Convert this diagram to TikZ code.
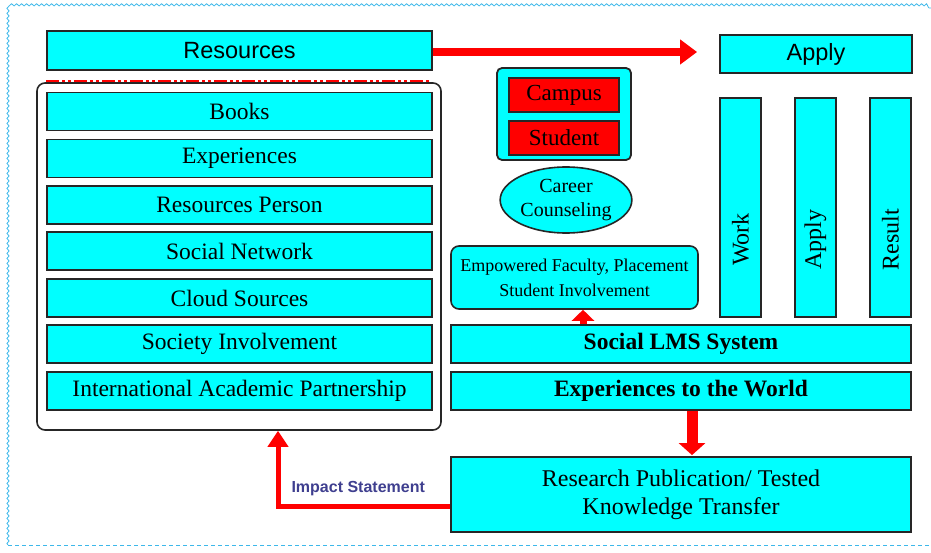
\documentclass[tikz,border=0pt]{standalone}
\usepackage{fontspec}
\setmainfont{Liberation Serif}
\setsansfont{Liberation Sans}
\usetikzlibrary{arrows.meta,shapes.geometric,shapes.misc,decorations.pathmorphing}
\definecolor{cy}{HTML}{00FFFF}
\definecolor{bord}{HTML}{3DB8EA}
\definecolor{impact}{HTML}{3F3F8F}
\definecolor{redc}{HTML}{FF0000}
\tikzset{
  cbox/.style={draw=black!85, line width=1.8pt, fill=cy, inner sep=1pt, align=center,
    font=\fontsize{23.5}{26}\selectfont},
  sbox/.style={cbox, font=\sffamily\fontsize{23.5}{26}\selectfont},
  bbox/.style={cbox, font=\bfseries\fontsize{23.5}{26}\selectfont},
  rbox/.style={cbox, fill=redc, font=\fontsize{23}{25}\selectfont},
  vtext/.style={rotate=90, font=\fontsize{24}{26}\selectfont, inner sep=0pt},
  redarrow/.style={draw=redc, line width=8pt},
}
\begin{document}
\begin{tikzpicture}[x=1pt,y=-1pt]
\useasboundingbox (0,0) rectangle (931,553);
% page border
\draw[bord, line width=0.8pt, decorate, decoration={snake, amplitude=1.1pt, segment length=5pt}]
  (8,545) -- (8,8) -- (931,8);
\draw[bord, line width=1pt, dash pattern=on 4pt off 3pt] (8,545) -- (931,545);

% left column
\node[sbox, minimum width=385pt, minimum height=39pt] (res) at (239.5,50.5) {Resources};
\draw[redc, line width=2.5pt, dash pattern=on 13pt off 3pt on 3pt off 3pt on 3pt off 3pt]
  ([yshift=-10pt]res.south west) -- ([yshift=-10pt,xshift=-2pt]res.south east);
\node[draw=black!85, line width=1.6pt, rounded corners=8pt, minimum width=404pt, minimum height=347pt] (group) at (239,256.5) {};
\node[cbox, minimum width=385pt, minimum height=38pt] (books) at (239.5,111.5) {Books};
\node[cbox, minimum width=385pt, minimum height=38pt] (exp) at (239.5,158.5) {Experiences};
\node[cbox, minimum width=385pt, minimum height=38pt] (rp) at (239.5,205) {Resources Person};
\node[cbox, minimum width=385pt, minimum height=38pt] (sn) at (239.5,251) {Social Network};
\node[cbox, minimum width=385pt, minimum height=38pt] (cs) at (239.5,298) {Cloud Sources};
\node[cbox, minimum width=385pt, minimum height=38pt] (si) at (239.5,344) {Society Involvement};
\node[cbox, minimum width=385pt, minimum height=38pt] (iap) at (239.5,391) {International Academic Partnership};

% right top
\node[sbox, minimum width=192pt, minimum height=38pt] (apply) at (816,54) {Apply};
\node[cbox, minimum width=41pt, minimum height=219pt] (work) at (740.5,207.5) {};
\node[cbox, minimum width=41pt, minimum height=219pt] (apply2) at (815.5,207.5) {};
\node[cbox, minimum width=41pt, minimum height=219pt] (result) at (890.5,207.5) {};
\node[vtext] (workt) at ([yshift=-32pt]work.center) {Work};
\node[vtext] (applyt) at ([yshift=-32pt]apply2.center) {Apply};
\node[vtext] (resultt) at ([yshift=-32pt]result.center) {Result};

% middle
\node[cbox, rounded corners=5pt, minimum width=134pt, minimum height=92pt] (cbox1) at (564,114) {};
\node[rbox, minimum width=110pt, minimum height=34pt] (campus) at (564,95) {Campus};
\node[rbox, minimum width=110pt, minimum height=34pt] (student) at (564,138) {Student};
\node[ellipse, cbox, line width=1.6pt, minimum width=125pt, minimum height=66pt,
  font=\fontsize{20}{24}\selectfont] (career) at (566,200) {Career\\Counseling};
\node[cbox, rounded corners=8pt, line width=1.6pt, minimum width=247pt, minimum height=63pt,
  font=\fontsize{18}{25}\selectfont] (emp) at (574.5,277.5) {Empowered Faculty, Placement\\Student Involvement};
\node[bbox, minimum width=460pt, minimum height=38pt] (lms) at (681,344) {Social LMS System};
\node[bbox, minimum width=460pt, minimum height=38pt] (world) at (681,391) {Experiences to the World};
\node[cbox, minimum width=460pt, minimum height=75pt, font=\fontsize{24}{28}\selectfont] (research) at (681,494.5)
  {Research Publication/ Tested\\Knowledge Transfer};

% arrows
\draw[redarrow, -{Triangle[width=24pt,length=17pt]}] (res.east |- 0,52) -- ([xshift=-22pt]apply.west |- 0,52);
\draw[redarrow, line width=7pt, -{Triangle[width=22pt,length=11pt]}]
  ([xshift=8.5pt]emp.south |- lms.north) -- ([xshift=8.5pt]emp.south);
\draw[redarrow, line width=11pt, -{Triangle[width=26pt,length=12pt]}]
  ([xshift=11pt]world.south) -- ([xshift=11pt,yshift=1pt]research.north);
\draw[redarrow, line width=5pt, -{Triangle[width=20pt,length=16pt]}]
  ([yshift=-11.5pt]research.west) -| ([xshift=39pt]group.south);
\node[font=\sffamily\bfseries\fontsize{16}{18}\selectfont, text=impact, anchor=west] (imp) at (288,489) {Impact Statement};
\end{tikzpicture}
\end{document}
